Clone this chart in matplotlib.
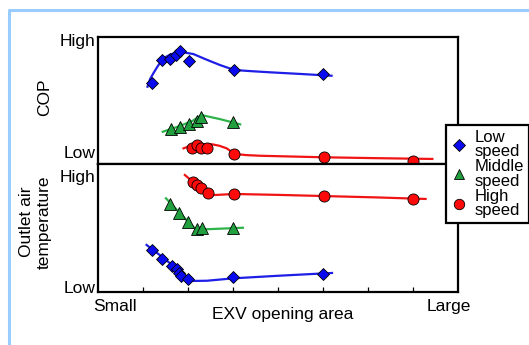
import matplotlib
matplotlib.use("Agg")
import matplotlib.pyplot as plt
from matplotlib.lines import Line2D

plt.rcParams['font.family'] = ['Liberation Sans', 'DejaVu Sans']

#------------------ data (x: 0..8 opening area, y: 0..10 per panel) ------------------
# COP panel
cop_low_x = [1.19, 1.42, 1.60, 1.73, 1.82, 2.03, 3.02, 5.01]
cop_low_y = [6.39, 8.17, 8.23, 8.57, 8.88, 8.12, 7.42, 7.04]
cop_low_fit_x = [1.10, 1.16, 1.23, 1.32, 1.45, 1.62, 1.82, 2.12, 2.40, 2.71, 3.03, 3.40, 3.82, 4.50, 5.19]
cop_low_fit_y = [6.08, 6.70, 7.13, 7.65, 8.31, 8.62, 8.82, 8.64, 8.22, 7.78, 7.39, 7.30, 7.21, 7.08, 6.94]

cop_mid_x = [1.62, 1.82, 2.02, 2.19, 2.30, 2.99]
cop_mid_y = [2.77, 2.95, 3.13, 3.39, 3.73, 3.29]
cop_mid_fit_x = [1.44, 1.80, 2.10, 2.30, 2.70, 3.16]
cop_mid_fit_y = [2.55, 2.98, 3.40, 3.86, 3.55, 3.13]

cop_high_x = [2.08, 2.21, 2.30, 2.43, 3.03, 5.02, 7.01]
cop_high_y = [1.30, 1.51, 1.25, 1.25, 0.79, 0.55, 0.28]
cop_high_fit_x = [1.90, 2.00, 2.11, 2.30, 2.53, 2.70, 2.86, 2.96, 3.04, 3.30, 3.60, 4.30, 5.02, 6.20, 7.43]
cop_high_fit_y = [1.25, 1.38, 1.51, 1.58, 1.57, 1.45, 1.25, 1.00, 0.81, 0.72, 0.67, 0.61, 0.55, 0.48, 0.42]

# outlet air temperature panel
tmp_low_x = [1.19, 1.42, 1.64, 1.75, 1.80, 1.84, 2.01, 3.01, 5.00]
tmp_low_y = [3.27, 2.57, 2.02, 1.78, 1.44, 1.20, 0.97, 1.13, 1.39]
tmp_low_fit_x = [1.08, 1.40, 1.70, 1.90, 2.04, 2.42, 3.01, 4.00, 5.20]
tmp_low_fit_y = [3.67, 2.80, 1.95, 1.30, 0.84, 0.86, 1.05, 1.25, 1.47]

tmp_mid_x = [1.60, 1.80, 2.01, 2.21, 2.32, 2.99]
tmp_mid_y = [6.86, 6.20, 5.49, 4.92, 4.98, 5.02]
tmp_mid_fit_x = [1.51, 1.80, 2.00, 2.19, 2.40, 3.22]
tmp_mid_fit_y = [7.33, 6.25, 5.50, 4.84, 4.90, 5.02]

tmp_high_x = [2.10, 2.21, 2.30, 2.44, 3.03, 5.02, 7.01]
tmp_high_y = [8.59, 8.38, 8.12, 7.77, 7.67, 7.51, 7.25]
tmp_high_fit_x = [1.93, 2.10, 2.25, 2.44, 2.60, 3.03, 4.00, 5.00, 6.20, 7.28]
tmp_high_fit_y = [9.16, 8.65, 8.20, 7.67, 7.59, 7.67, 7.60, 7.51, 7.40, 7.28]

labels = ["Low\nspeed", "Middle\nspeed", "High\nspeed"]

#------------------ style ------------------
blue, green, red = '#0a0af0', '#22a040', '#ff0a0a'
blue_line, green_line, red_line = '#1e1ee6', '#2db34a', '#f01414'

fig = plt.figure(figsize=(5.29, 3.45), dpi=100)
ax_top = fig.add_axes([98/529, 1-164.3/345, 360/529, 127.6/345])
ax_bot = fig.add_axes([98/529, 1-291.7/345, 360/529, 127.4/345])

for ax in (ax_top, ax_bot):
    ax.set_xlim(0, 8)
    ax.set_ylim(0, 10)
    for s in ax.spines.values():
        s.set_linewidth(1.6)
    ax.tick_params(axis='y', length=0, pad=2, labelsize=12.5)

ax_top.set_xticks([])
ax_bot.set_xticks(range(1, 8))
ax_bot.tick_params(axis='x', direction='in', length=3.6, width=0.9, labelbottom=False)

ax_top.set_yticks([9.74, 0.96], ["High", "Low"])
ax_bot.set_yticks([9.08, 0.37], ["High", "Low"])

kw = dict(markeredgecolor='black', markeredgewidth=0.6, linestyle='none', zorder=3)
ms_d, ms_t, ms_o = 6.5, 8, 8
lw_fit = 1.6

ax_top.plot(cop_low_fit_x, cop_low_fit_y, color=blue_line, lw=lw_fit)
ax_top.plot(cop_mid_fit_x, cop_mid_fit_y, color=green_line, lw=lw_fit)
ax_top.plot(cop_high_fit_x, cop_high_fit_y, color=red_line, lw=lw_fit)
ax_top.plot(cop_low_x, cop_low_y, marker='D', markersize=ms_d, color=blue, **kw)
ax_top.plot(cop_mid_x, cop_mid_y, marker='^', markersize=ms_t, color=green, **kw)
ax_top.plot(cop_high_x, cop_high_y, marker='o', markersize=ms_o, color=red, **kw)

ax_bot.plot(tmp_low_fit_x, tmp_low_fit_y, color=blue_line, lw=lw_fit)
ax_bot.plot(tmp_mid_fit_x, tmp_mid_fit_y, color=green_line, lw=lw_fit)
ax_bot.plot(tmp_high_fit_x, tmp_high_fit_y, color=red_line, lw=lw_fit)
ax_bot.plot(tmp_low_x, tmp_low_y, marker='D', markersize=ms_d, color=blue, **kw)
ax_bot.plot(tmp_mid_x, tmp_mid_y, marker='^', markersize=ms_t, color=green, **kw)
ax_bot.plot(tmp_high_x, tmp_high_y, marker='o', markersize=ms_o, color=red, **kw)

# axis texts
fig.text(114.7/529, 1-306.7/345, "Small", ha='center', va='center', fontsize=12.5)
fig.text(448.7/529, 1-306.7/345, "Large", ha='center', va='center', fontsize=12.5)
fig.text(282.7/529, 1-315/345, "EXV opening area", ha='center', va='center', fontsize=12.5)
fig.text(44.9/529, 1-97/345, "COP", rotation=90, ha='center', va='center', fontsize=12.5)
fig.text(35.4/529, 1-222/345, "Outlet air\ntemperature", rotation=90, ha='center',
         va='center', fontsize=12.5, linespacing=1.15)

# legend
handles = [
    Line2D([], [], marker='D', markersize=6, color=blue, **kw),
    Line2D([], [], marker='^', markersize=7.5, color=green, **kw),
    Line2D([], [], marker='o', markersize=7.5, color=red, **kw),
]
leg = fig.legend(handles, labels, loc='upper left', bbox_to_anchor=(446/529, 1-125/345),
                 fontsize=12, frameon=True, fancybox=False, framealpha=1,
                 edgecolor='black', borderaxespad=0, borderpad=0.3, handlelength=1.0,
                 handletextpad=0.4, labelspacing=0.0)
leg.get_frame().set_linewidth(1.6)
for t in leg.get_texts():
    t.set_linespacing(0.95)

# light blue page border
fig.add_artist(Line2D([8.5/529, 8.5/529, 1], [0, 1-9.5/345, 1-9.5/345],
                      transform=fig.transFigure, color='#99ccff', lw=2.2))

fig.savefig("out.png", dpi=100)
